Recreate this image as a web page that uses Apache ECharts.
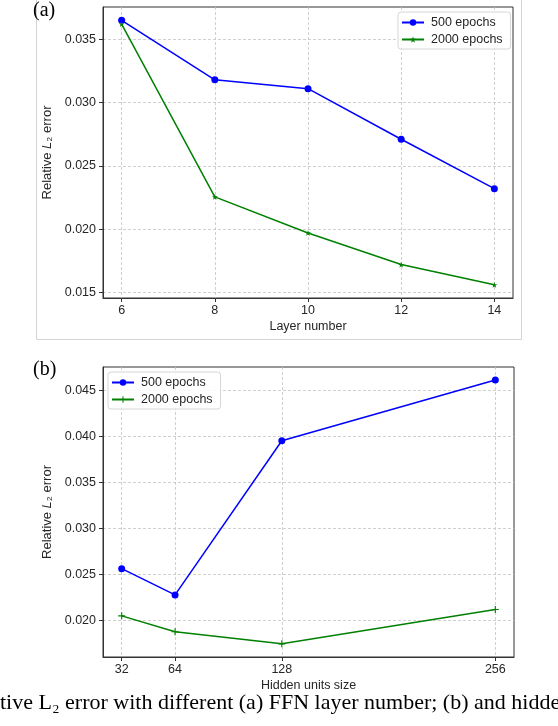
<!DOCTYPE html>
<html>
<head>
<meta charset="utf-8">
<script src="https://cdn.jsdelivr.net/npm/echarts@6/dist/echarts.min.js"></script>
<style>
html,body{margin:0;padding:0;background:#fff;}
#chart{width:558px;height:726px;}
</style>
</head>
<body>
<div id="chart"></div>
<script>
// ---- data ----
const layerNumbers = [6, 8, 10, 12, 14];
const layer500 = [0.0365, 0.0318, 0.0311, 0.0271, 0.0232];
const layer2000 = [0.0362, 0.02255, 0.0197, 0.0172, 0.0156];
const hiddenSizes = [32, 64, 128, 256];
const hidden500 = [0.0256, 0.02275, 0.0395, 0.0461];
const hidden2000 = [0.02047, 0.01874, 0.01743, 0.02116];
const layerXTicks = [6, 8, 10, 12, 14];
const layerYTicks = [0.015, 0.020, 0.025, 0.030, 0.035];
const hiddenXTicks = [32, 64, 128, 256];
const hiddenYTicks = [0.020, 0.025, 0.030, 0.035, 0.040, 0.045];
const legendLabels = ['500 epochs', '2000 epochs'];
const panelLabels = ['(a)', '(b)'];
const xNames = ['Layer number', 'Hidden units size'];
const captionText = 'tive L\u2082 error with different (a) FFN layer number; (b) and hidde';

const SANS = 'Liberation Sans';
const SERIF = 'Liberation Serif';
const TXT = '#262626';
const BLUE = '#0000ff';
const GREEN = '#008000';
const STAR = 'path://M50,0 L61,35 L98,35 L68,57 L79,91 L50,70 L21,91 L32,57 L2,35 L39,35 Z';
const PLUS = 'path://M42,0 H58 V42 H100 V58 H58 V100 H42 V58 H0 V42 H42 Z';

function pair(a, b) { return a.map((v, i) => [v, b[i]]); }

const gridLine = { show: true, lineStyle: { type: [3, 2], color: '#c4c4c4', width: 0.8 } };

function xAxis(gi, min, max, ticks, name) {
  return {
    gridIndex: gi, type: 'value', min: min, max: max,
    axisLine: { show: true, lineStyle: { color: '#333', width: 1 } },
    axisTick: { show: true, customValues: ticks, length: 4, lineStyle: { color: '#333' } },
    axisLabel: { customValues: ticks, fontSize: 12.5, color: TXT, fontFamily: SANS, margin: 6 },
    splitLine: gridLine,
    name: name, nameLocation: 'middle', nameGap: 22,
    nameTextStyle: { fontSize: 12.5, color: TXT, fontFamily: SANS }
  };
}
function yAxis(gi, min, max, ticks) {
  return {
    gridIndex: gi, type: 'value', min: min, max: max,
    axisLine: { show: true, lineStyle: { color: '#333', width: 1 } },
    axisTick: { show: true, customValues: ticks, length: 4, lineStyle: { color: '#333' } },
    axisLabel: { customValues: ticks, fontSize: 12.5, color: TXT, fontFamily: SANS, margin: 7,
      formatter: v => Number(v).toFixed(3) },
    splitLine: gridLine,
    name: 'Relative {i|L}\u2082 error', nameLocation: 'middle', nameGap: 41,
    nameTextStyle: { fontSize: 13, color: TXT, fontFamily: SANS,
      rich: { i: { fontStyle: 'italic', fontSize: 13, color: TXT, fontFamily: SANS } } }
  };
}
function lineSeries(name, gi, data, color, symbol, size) {
  return {
    name: name, type: 'line', xAxisIndex: gi, yAxisIndex: gi, data: data,
    symbol: symbol, symbolSize: size, showSymbol: true,
    lineStyle: { color: color, width: 1.5 },
    itemStyle: { color: color, borderWidth: 0 },
    emphasis: { disabled: true }, animation: false
  };
}
const legendMap = { a500: legendLabels[0], a2000: legendLabels[1], b500: legendLabels[0], b2000: legendLabels[1] };
function legend(names, left, top) {
  return {
    data: names, orient: 'vertical', left: left, top: top,
    itemWidth: 22, itemHeight: 8, itemGap: 4,
    padding: [4, 8, 3, 3],
    backgroundColor: 'rgba(255,255,255,0.85)',
    borderColor: '#d6d6d6', borderWidth: 1, borderRadius: 3,
    textStyle: { fontSize: 12.5, color: TXT, fontFamily: SANS, padding: [0, 0, 0, 2] },
    formatter: n => legendMap[n],
    selectedMode: false
  };
}

const chart = echarts.init(document.getElementById('chart'), null, { renderer: 'canvas' });
chart.setOption({
  animation: false,
  backgroundColor: '#fff',
  grid: [
    { left: 103, top: 7, width: 410, height: 291, show: true, borderColor: '#333', borderWidth: 1, backgroundColor: 'transparent' },
    { left: 103, top: 367, width: 411, height: 290, show: true, borderColor: '#333', borderWidth: 1, backgroundColor: 'transparent' }
  ],
  xAxis: [
    xAxis(0, 5.6, 14.4, layerXTicks, xNames[0]),
    xAxis(1, 20.8, 267.2, hiddenXTicks, xNames[1])
  ],
  yAxis: [
    yAxis(0, 0.01456, 0.03755, layerYTicks),
    yAxis(1, 0.0160, 0.04752, hiddenYTicks)
  ],
  legend: [
    legend(['a500', 'a2000'], 398, 12),
    legend(['b500', 'b2000'], 108, 372)
  ],
  series: [
    lineSeries('a500', 0, pair(layerNumbers, layer500), BLUE, 'circle', 7),
    lineSeries('a2000', 0, pair(layerNumbers, layer2000), GREEN, STAR, 6),
    lineSeries('b500', 1, pair(hiddenSizes, hidden500), BLUE, 'circle', 7),
    lineSeries('b2000', 1, pair(hiddenSizes, hidden2000), GREEN, PLUS, 7)
  ],
  graphic: [
    { type: 'rect', shape: { x: 36.5, y: -1, width: 485, height: 340.5 },
      style: { fill: 'none', stroke: '#d4d4d4', lineWidth: 1 }, z: -1 },
    { type: 'text', x: 33, y: 1, style: { text: panelLabels[0], font: '20px "' + SERIF + '"', fill: '#000' } },
    { type: 'text', x: 33, y: 360, style: { text: panelLabels[1], font: '20px "' + SERIF + '"', fill: '#000' } },
    { type: 'text', x: 0, y: 692, style: { text: captionText, font: '22px "' + SERIF + '"', fill: '#000' } }
  ]
});
</script>
</body>
</html>
